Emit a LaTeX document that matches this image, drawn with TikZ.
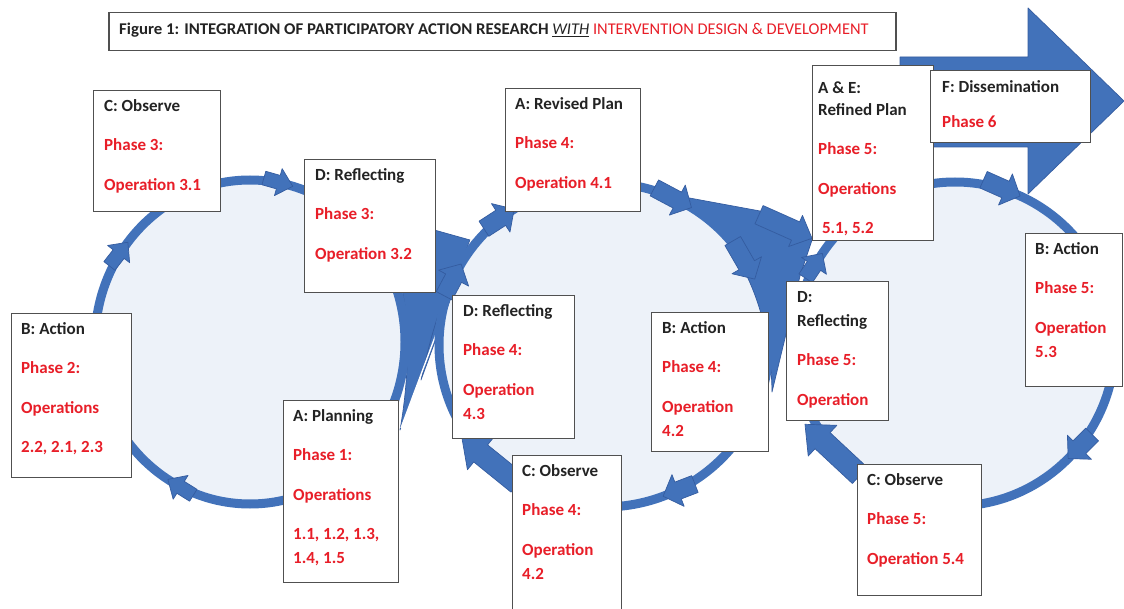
\documentclass[tikz,border=0pt]{standalone}
\usepackage{fontspec}
\setmainfont{Carlito}
\usetikzlibrary{calc}
\pgfdeclarelayer{backdrop}
\pgfsetlayers{backdrop,main}

\definecolor{ringblue}{RGB}{66,114,186}
\definecolor{ringedge}{RGB}{52,92,160}
\definecolor{cyclefill}{RGB}{237,242,249}
\definecolor{txtred}{RGB}{232,30,40}
\definecolor{txtdark}{RGB}{35,35,35}
\definecolor{boxline}{RGB}{80,80,80}

\newcommand\rd[1]{\textcolor{txtred}{#1}}
\newcommand\firstline{\rule{0pt}{13pt}}

\tikzset{
  stagebox/.style={draw=boxline, line width=1.3pt, fill=white, inner sep=0pt, anchor=north west},
  stagetext/.style={anchor=north west, inner sep=0pt, align=left, text=txtdark,
                    font=\fontsize{17}{24}\selectfont\bfseries},
  ring/.style={draw=ringblue, line width=9pt},
  flowshape/.style={fill=ringblue, draw=ringedge, line width=0.7pt, line join=round},
  seam/.style={draw=white, line width=1.4pt},
  pics/barrow/.style n args={4}{code={
     \path[flowshape] (0,0) -- (-#2,#3) -- (-#2,#4) -- (-#1,#4) -- (-#1,-#4)
        -- (-#2,-#4) -- (-#2,-#3) -- cycle;}},
}

\begin{document}
\begin{tikzpicture}[x=1pt,y=-1pt]
\useasboundingbox (0,0) rectangle (1124,609);

% ---------- stage boxes ----------
\node[stagebox, minimum width=127pt, minimum height=121pt] (c1obs)  at (93,90) {};
\node[stagebox, minimum width=131pt, minimum height=133pt] (c1ref)  at (304,159) {};
\node[stagebox, minimum width=120pt, minimum height=164pt] (c1act)  at (11,313) {};
\node[stagebox, minimum width=115pt, minimum height=182pt] (c1plan) at (283,400) {};
\node[stagebox, minimum width=135pt, minimum height=123pt] (c2plan) at (505,88) {};
\node[stagebox, minimum width=122pt, minimum height=143pt] (c2ref)  at (452,295) {};
\node[stagebox, minimum width=117pt, minimum height=139pt] (c2act)  at (651,312) {};
\node[stagebox, minimum width=109pt, minimum height=170pt] (c2obs)  at (512,455) {};
\node[stagebox, minimum width=121pt, minimum height=175pt] (c3plan) at (812,65) {};
\node[stagebox, minimum width=160pt, minimum height=72pt]  (diss)   at (930,70) {};
\node[stagebox, minimum width=102pt, minimum height=139pt] (c3ref)  at (786,281) {};
\node[stagebox, minimum width=97pt,  minimum height=153pt] (c3act)  at (1025,233) {};
\node[stagebox, minimum width=124pt, minimum height=131pt] (c3obs)  at (857,464) {};

% ---------- box texts ----------
\node[stagetext] (c1obs-t) at ($(c1obs.north west)+(11,8)$)
  {\firstline C: Observe\\[15.5pt]\rd{Phase 3:}\\[15.5pt]\rd{Operation 3.1}};
\node[stagetext] (c1ref-t) at ($(c1ref.north west)+(11,8)$)
  {\firstline D: Reflecting\\[15.5pt]\rd{Phase 3:}\\[15.5pt]\rd{Operation 3.2}};
\node[stagetext] (c1act-t) at ($(c1act.north west)+(10,8)$)
  {\firstline B: Action\\[15.5pt]\rd{Phase 2:}\\[15.5pt]\rd{Operations}\\[15.5pt]\rd{2.2, 2.1, 2.3}};
\node[stagetext] (c1plan-t) at ($(c1plan.north west)+(10,8)$)
  {\firstline A: Planning\\[15.5pt]\rd{Phase 1:}\\[15.5pt]\rd{Operations}\\[15.5pt]\rd{1.1, 1.2, 1.3,}\\\rd{1.4, 1.5}};
\node[stagetext] (c2plan-t) at ($(c2plan.north west)+(10,8)$)
  {\firstline A: Revised Plan\\[15.5pt]\rd{Phase 4:}\\[15.5pt]\rd{Operation 4.1}};
\node[stagetext] (c2ref-t) at ($(c2ref.north west)+(11,8)$)
  {\firstline D: Reflecting\\[15.5pt]\rd{Phase 4:}\\[15.5pt]\rd{Operation}\\\rd{4.3}};
\node[stagetext] (c2act-t) at ($(c2act.north west)+(11,8)$)
  {\firstline B: Action\\[15.5pt]\rd{Phase 4:}\\[15.5pt]\rd{Operation}\\\rd{4.2}};
\node[stagetext] (c2obs-t) at ($(c2obs.north west)+(10,8)$)
  {\firstline C: Observe\\[15.5pt]\rd{Phase 4:}\\[15.5pt]\rd{Operation}\\\rd{4.2}};
\node[stagetext] (c3plan-t) at ($(c3plan.north west)+(6,15)$)
  {\firstline A \& E:\\[-2pt]Refined Plan\\[15.5pt]\rd{Phase 5:}\\[15.5pt]\rd{Operations}\\[15.5pt]\rd{\ 5.1, 5.2}};
\node[stagetext] (diss-t) at ($(diss.north west)+(12,9)$)
  {\firstline F: Dissemination\\[11pt]\rd{Phase 6}};
\node[stagetext] (c3ref-t) at ($(c3ref.north west)+(11,8)$)
  {\firstline D:\\Reflecting\\[15.5pt]\rd{Phase 5:}\\[15.5pt]\rd{Operation}};
\node[stagetext] (c3act-t) at ($(c3act.north west)+(10,8)$)
  {\firstline B: Action\\[15.5pt]\rd{Phase 5:}\\[15.5pt]\rd{Operation}\\\rd{5.3}};
\node[stagetext] (c3obs-t) at ($(c3obs.north west)+(10,8)$)
  {\firstline C: Observe\\[15.5pt]\rd{Phase 5:}\\[15.5pt]\rd{Operation 5.4}};

% ---------- title ----------
\node[draw=boxline, line width=1.5pt, fill=white, inner sep=0pt, anchor=north west,
      minimum width=787pt, minimum height=38pt] (titlebox) at (108,12) {};
\node[anchor=base west, inner sep=0pt, text=txtdark, font=\fontsize{16.4}{20}\selectfont]
  (titletext) at (119,35)
  {\scalebox{1.025}[1]{\textbf{Figure 1: INTEGRATION OF PARTICIPATORY ACTION RESEARCH}}\ \underline{\textit{WITH}}
   \rd{INTERVENTION DESIGN \& DEVELOPMENT}};

% ---------- cycles, flows and arrows (behind the boxes) ----------
\begin{pgfonlayer}{backdrop}
  \fill[white] (0,0) rectangle (1124,609);

  % dissemination arrow
  \path[flowshape] (900,57) -- (1028,57) -- (1028,8) -- (1124,101) -- (1028,194)
     -- (1028,147) -- (900,147) -- cycle;

  \coordinate (o1) at (250,342);
  \coordinate (o2) at (604,345);
  \coordinate (o3) at (955,344);

  \fill[cyclefill] (o1) ellipse [x radius=155pt, y radius=162pt];
  \fill[cyclefill] (o2) ellipse [x radius=165pt, y radius=162pt];
  \fill[cyclefill] (o3) ellipse [x radius=160pt, y radius=162pt];

  % hand-over from cycle 1 to cycle 2
  \path[flowshape] (420,226) -- (470,240) -- (400,430)
     .. controls (408,385) and (411,330) .. (402,290) -- cycle;
  \path[flowshape] (472,240) -- (421,380)
     .. controls (430,340) and (442,290) .. (472,240) -- cycle;
  \draw[seam] (472,238) -- (401,428);
  % hand-over from cycle 2 to cycle 3
  \path[flowshape] (684,197) -- (760,211) -- (812,240) -- (800,276) -- (772,392)
     .. controls (771,320) and (748,248) .. (684,197) -- cycle;

  \draw[ring] (o1) ellipse [x radius=155pt, y radius=162pt];
  \draw[ring] (o2) ellipse [x radius=165pt, y radius=162pt];
  \draw[ring] (o3) ellipse [x radius=160pt, y radius=162pt];

  % cycle 1 arrowheads
  \pic[rotate=-16] at ($(o1)+(-74:155 and 162)$)  {barrow={30}{15}{14}{7}};
  \pic[rotate=52]  at ($(o1)+(-142:155 and 162)$) {barrow={30}{15}{14}{7}};
  \pic[rotate=148] at ($(o1)+(122:155 and 162)$)  {barrow={30}{15}{14}{7}};

  % cycle 2 arrowheads
  \pic[rotate=62]   at ($(o2)+(-150:165 and 162)$) {barrow={36}{16}{17}{9}};
  \pic[rotate=33]   at ($(o2)+(-123:165 and 162)$) {barrow={36}{16}{17}{9}};
  \pic[rotate=-28]  at ($(o2)+(-58:165 and 162)$)  {barrow={42}{16}{17}{9}};
  \pic[rotate=-60]  at ($(o2)+(-24:165 and 162)$)  {barrow={44}{16}{17}{9}};
  \pic[rotate=-159] at ($(o2)+(69:165 and 162)$)   {barrow={34}{16}{17}{9}};

  % cycle 3 arrowheads
  \pic[rotate=-24]  at ($(o3)+(-66:160 and 162)$)  {barrow={40}{16}{17}{9}};
  \pic[rotate=-135] at ($(o3)+(45:160 and 162)$)   {barrow={34}{16}{17}{9}};
  \pic[rotate=56]   at ($(o3)+(-146:160 and 162)$) {barrow={30}{15}{15}{8}};

  % observe -> reflect links
  \pic[rotate=141] at ($(c2ref.south west)+(10,-1)$) {barrow={72}{24}{21}{11}};
  \pic[rotate=137] at ($(c3ref.south west)+(19,3)$)  {barrow={75}{24}{21}{11}};
  % flow into the refined plan
  \pic[rotate=-24] at ($(c3plan.south west)+(0,-3)$) {barrow={58}{18}{17}{10}};
\end{pgfonlayer}
\end{tikzpicture}
\end{document}
